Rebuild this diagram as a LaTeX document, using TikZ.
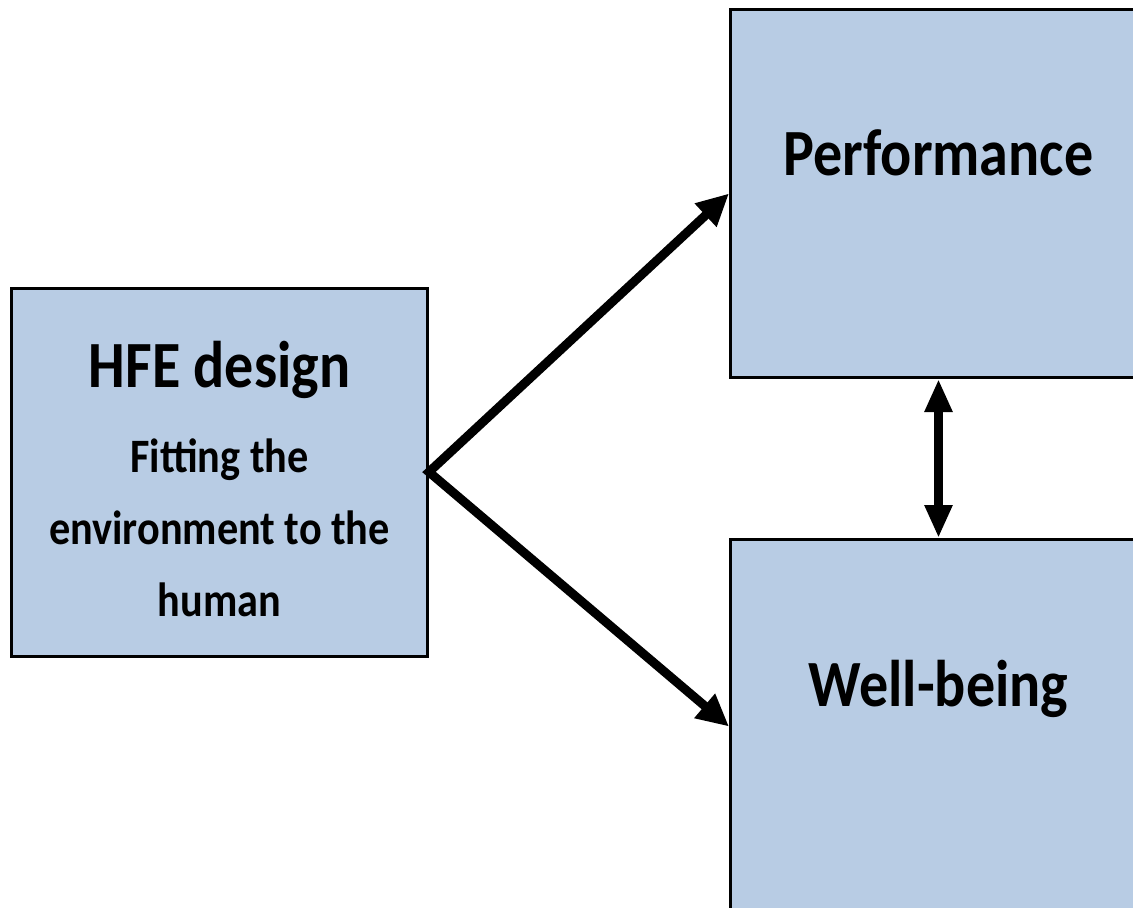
\documentclass[tikz,border=0pt]{standalone}
\usepackage{fontspec}
\newfontfamily\boxfont[FakeStretch=0.88]{Carlito}
\usepackage{tikz}
\usetikzlibrary{arrows.meta,positioning}
\definecolor{boxblue}{HTML}{B8CCE4}

\begin{document}
\begin{tikzpicture}[x=1pt,y=-1pt,
  hfebox/.style={draw=black, line width=3pt, fill=boxblue, minimum width=416pt, minimum height=368pt, inner sep=0pt, align=center, font=\boxfont\bfseries},
  bigfont/.style={font=\boxfont\bfseries\fontsize{66}{72}\selectfont},
  thickarrow/.style={line width=9pt, {Triangle[length=32pt,width=30pt]}-{Triangle[length=32pt,width=30pt]}}]
\clip (0,0) rectangle (1133,908);
\useasboundingbox (0,0) rectangle (1133,908);
% the three boxes
\node[hfebox, font=\boxfont\bfseries\fontsize{48}{72}\selectfont] (hfe) at (219.5,472)
  {{\fontsize{66}{72}\selectfont\rule{0pt}{60pt}HFE design}\\[13pt]Fitting the\\environment to the\\human};
\node[hfebox, bigfont, text height=45pt, text depth=81pt] (perf) at (938.5,193.5) {Performance};
\node[hfebox, bigfont, minimum height=374pt, text height=45pt, text depth=85pt] (well) at (938.5,726.5) {Well-being};
% arrows
\draw[thickarrow, line join=miter] (perf.west) -- (hfe.east) -- (well.west);
\draw[line width=9pt, {Triangle[length=33pt,width=26pt]}-{Triangle[length=33pt,width=26pt]}] (perf.south) -- (well.north);
\end{tikzpicture}
\end{document}
